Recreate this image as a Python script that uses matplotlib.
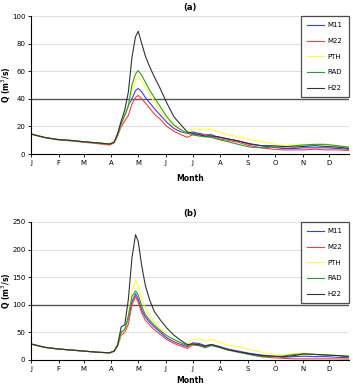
import matplotlib
matplotlib.use("Agg")
import matplotlib.pyplot as plt

days = [0, 15, 30, 45, 60, 75, 88, 93, 97, 101, 105, 109, 113, 117, 120, 124, 128, 133, 138,
        145, 152, 160, 168, 175, 181, 188, 195, 202, 210, 220, 232, 245, 258, 270, 282, 295,
        305, 318, 330, 343, 356]

month_pos = [0, 31, 59, 90, 120, 151, 181, 212, 243, 273, 304, 334]
month_labels = ["J", "F", "M", "A", "M", "J", "J", "A", "S", "O", "N", "D"]

series_names = ["M11", "M22", "PTH", "RAD", "H22"]
series_colors = ["#3a3aff", "#ff3b3b", "#ffff40", "#2f9a2f", "#333333"]

# Panel (a)
a_M11 = [14.5, 12, 10.5, 9.8, 8.8, 8.0, 7.2, 8.5, 14, 22, 28, 35, 40, 46, 47.5, 45, 41, 37, 33,
         28, 23, 18.5, 16, 15, 16, 15, 14, 14, 12, 11, 9.5, 7, 6, 5, 4, 4, 4.5, 4.5, 4.5, 4, 3.5]
a_M22 = [14.5, 12, 10.3, 9.5, 8.5, 7.5, 6.5, 8.0, 13, 20, 24, 28, 36, 41, 42.5, 40, 37, 33, 29,
         25, 20, 16.5, 14, 12, 14, 14, 14, 13, 11, 10, 8.5, 6, 4.5, 3.5, 3, 3, 3, 3.5, 3, 3, 2.5]
a_PTH = [14.5, 12, 10.5, 9.8, 8.8, 8.0, 7.2, 8.5, 14, 22, 28, 35, 46, 54, 56, 53, 48, 43, 38,
         31, 25, 20, 17, 15.5, 18, 18, 17.5, 18, 16, 14, 12.5, 10.5, 9, 7.5, 6, 6.5, 7, 7, 6.5, 5.5, 4.5]
a_RAD = [14.5, 12, 10.5, 9.8, 8.8, 8.0, 7.2, 8.5, 14, 22, 28, 35, 50, 58, 60.5, 57, 52, 46, 41,
         34, 27, 21, 17.5, 15, 14, 13, 12.5, 12, 10.5, 9, 7, 5, 4.5, 5, 5, 6, 6.5, 7, 7, 6, 5]
a_H22 = [14.5, 12, 10.5, 9.8, 8.8, 8.0, 7.2, 8.5, 15, 24, 32, 45, 70, 85, 89, 80, 71, 63, 56,
         47, 37, 27, 21, 16, 15, 14, 13, 13, 12.5, 11, 9.5, 7.5, 6, 6, 5.5, 5, 5.5, 6, 5.5, 5, 4]

# Panel (b)
b_M11 = [29, 23, 20, 18, 16, 14, 13, 16, 26, 50, 55, 75, 105, 120, 110, 90, 78, 68, 60,
         50, 40, 33, 28, 24, 31, 30, 26, 28, 25, 20, 16, 12, 9, 7, 5, 6, 7, 6, 6, 5, 4]
b_M22 = [29, 23, 20, 18, 16, 14, 13, 16, 25, 45, 50, 65, 100, 115, 105, 85, 72, 63, 55,
         46, 37, 30, 25, 21, 27, 26, 24, 27, 24, 19, 15, 10, 6, 4, 3, 2, 2, 2, 2, 2, 1.5]
b_PTH = [29, 23, 20, 18, 16, 14, 13, 16, 26, 48, 53, 80, 125, 145, 135, 110, 92, 78, 68,
         56, 45, 36, 30, 30, 36, 38, 34, 37, 33, 27, 24, 19, 14, 10, 9, 12, 13, 11, 9, 7, 6]
b_RAD = [29, 23, 20, 18, 16, 14, 13, 16, 26, 50, 55, 80, 115, 125, 118, 97, 82, 72, 63,
         53, 44, 37, 31, 26, 29, 26, 22, 26, 23, 18, 14, 10, 6, 6, 7, 10, 11, 10, 9, 8, 7]
b_H22 = [29, 23, 20, 18, 16, 14, 13, 16, 28, 60, 64, 110, 185, 227, 215, 170, 135, 108, 88,
         72, 58, 45, 35, 28, 29, 28, 25, 28, 24, 19, 15, 11, 8, 7, 6, 8, 11, 10, 9, 8, 6]

panels = [
    ("(a)", [a_M11, a_M22, a_PTH, a_RAD, a_H22], [0, 20, 40, 60, 80, 100], 40, 6),
    ("(b)", [b_M11, b_M22, b_PTH, b_RAD, b_H22], [0, 50, 100, 150, 200, 250], 100, 3),
]

fig = plt.figure(figsize=(3.53, 3.86), dpi=100)
rects = [[0.0878, 0.601, 0.9009, 0.3575], [0.0878, 0.0674, 0.9009, 0.3575]]

for rect, (title, data, yticks, hline, xpad) in zip(rects, panels):
    ax = fig.add_axes(rect)
    for vals, name, col in zip(data, series_names, series_colors):
        ax.plot(days, vals, color=col, lw=0.8, label=name)
    ax.set_xlim(0, 356)
    ax.set_ylim(yticks[0], yticks[-1])
    ax.set_yticks(yticks)
    ax.set_xticks(month_pos)
    ax.set_xticklabels(month_labels)
    ax.tick_params(labelsize=5, length=2, width=0.6, pad=2)
    for y in yticks[1:]:
        ax.axhline(y, color="#d9d9d9", lw=0.6, zorder=0)
    ax.axhline(hline, color="#555555", lw=1.0, zorder=0.5)
    ax.spines["top"].set_visible(False)
    ax.spines["right"].set_visible(False)
    ax.spines["left"].set_linewidth(0.8)
    ax.spines["bottom"].set_linewidth(0.8)
    ax.set_title(title, fontsize=6, fontweight="bold", pad=4)
    ax.set_xlabel("Month", fontsize=5.5, fontweight="bold", labelpad=xpad)
    ax.set_ylabel("Q (m$^3$/s)", fontsize=5.5, fontweight="bold")
    ax.yaxis.set_label_coords(-0.056, 0.5)
    leg = ax.legend(loc="upper right", bbox_to_anchor=(1.0, 1.0), borderaxespad=0,
                    fontsize=5, frameon=True, fancybox=False, edgecolor="#222222",
                    labelspacing=1.4, handlelength=2.4, handletextpad=0.6,
                    borderpad=0.9)
    leg.get_frame().set_linewidth(0.9)

fig.savefig("out.png", dpi=100)
